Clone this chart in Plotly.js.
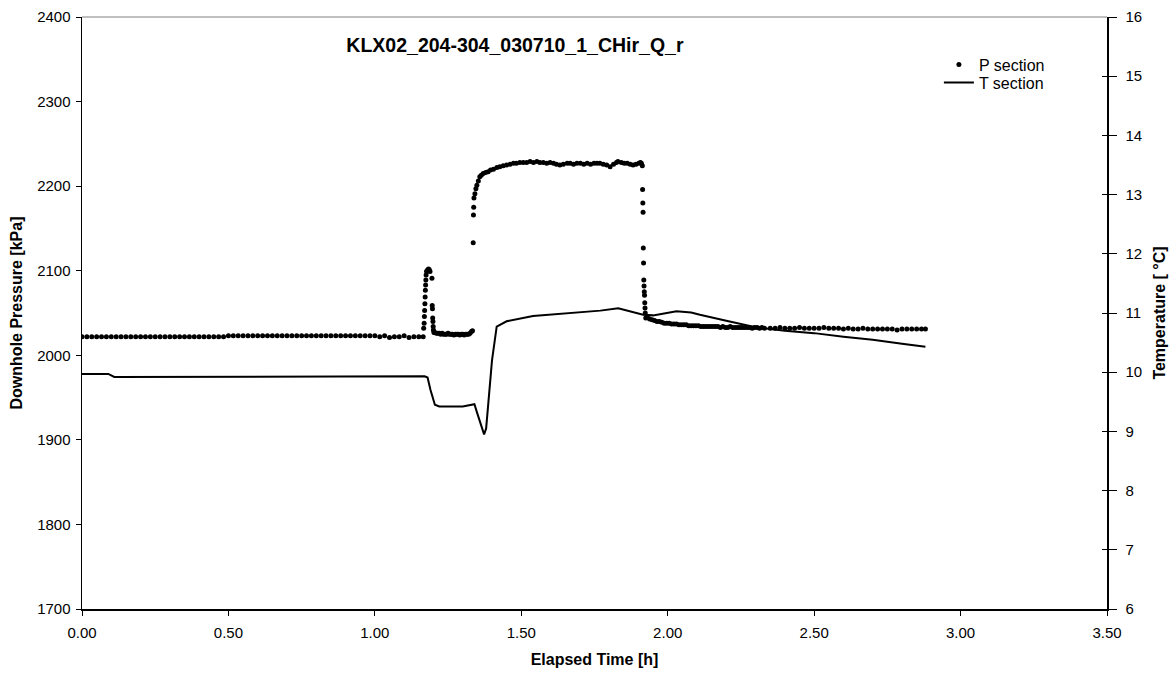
<!DOCTYPE html>
<html>
<head>
<meta charset="utf-8">
<script src="https://cdn.plot.ly/plotly-3.0.1.min.js"></script>
<style>html,body{margin:0;padding:0;background:#fff;}#chart{width:1173px;height:675px;}</style>
</head>
<body>
<div id="chart"></div>
<script>
// ---------- DATA ----------
var chartTitle = "KLX02_204-304_030710_1_CHir_Q_r";
var pName = "P section";
var tName = "T section";
var xTickLabels = ["0.00","0.50","1.00","1.50","2.00","2.50","3.00","3.50"];

// Pressure samples: elapsed time in minutes, pressure in kPa
var pBaseMin = [0,1,2,3,4,5,6,7,8,9,10,11,12,13,14,15,16,17,18,19,20,21,22,23,24,25,26,27,28,29,
  30,31,32,33,34,35,36,37,38,39,40,41,42,43,44,45,46,47,48,49,50,51,52,53,54,55,56,57,58,59,
  60,61,62,63,64,65,66,67,68,69];
var pBaseKPa = [2022,2022,2022,2022,2022,2022,2022,2022,2022,2022,2022,2022,2022,2022,2022,2022,2022,2022,2022,2022,2022,2022,2022,2022,2022,2022,2022,2022,2022,2022,
  2023,2023,2023,2023,2023,2023,2023,2023,2023,2023,2023,2023,2023,2023,2023,2023,2023,2023,2023,2023,2023,2023,2023,2023,2023,2023,2023,2023,2023,2023,
  2023,2022,2023,2021,2022,2022,2023,2021,2022,2022];

var pSpikeMin = [69.9,70.0,70.1,70.15,70.2,70.25,70.3,70.35,70.4,70.45,70.5,70.6,70.7,70.85,71.0,71.15,71.3,
  71.7,71.75,71.8,71.85,71.9,71.95,72.0,72.1];
var pSpikeKPa = [2022,2032,2038,2046,2053,2061,2069,2077,2083,2089,2095,2099,2100,2101,2102,2101,2099,
  2091,2059,2055,2044,2040,2034,2030,2027];

var pLowMin = [72.3,72.6,72.9,73.2,73.5,73.8,74.1,74.4,74.7,75.0,75.3,75.6,75.9,76.2,76.5,76.8,77.1,77.4,77.7,78.0,78.3,78.6,78.9,79.2,79.5,79.8,80.0];
var pLowKPa = [2027,2026,2026,2026,2025,2026,2025,2025,2025,2026,2025,2025,2025,2024,2025,2025,2025,2024,2025,2025,2024,2025,2025,2025,2026,2028,2029];

var pHighMin = [80.15,80.2,80.25,80.3,80.5,80.7,80.9,81.2,81.5,81.8,82.2,82.7,83.2,83.7,84.3,85.0,85.6,86.3,87.0,87.7,
  88.4,89.0,89.7,90.4,91.1,91.8,92.5,93.2,93.8,94.5,95.2,95.9,96.6,97.2,97.9,98.6,99.4,100.0,100.7,101.4,
  102.1,102.8,103.5,104.2,104.9,105.5,106.1,106.8,107.5,108.2,108.9,109.5,109.8,110.5,111.1,111.7,112.3,112.9,113.5,114.1,114.4,114.6];
var pHighKPa = [2133,2166,2175,2186,2191,2197,2201,2206,2211,2213,2215,2216,2217,2219,2220,2222,2223,2224,2225,2226,
  2227,2227,2228,2228,2228,2229,2228,2229,2228,2228,2227,2228,2227,2226,2225,2226,2227,2227,2226,2227,
  2227,2226,2227,2226,2227,2227,2227,2226,2225,2223,2226,2228,2229,2228,2227,2227,2226,2225,2226,2227,2228,2227];

var pDropMin = [114.8,114.85,114.9,114.95,115.0,115.05,115.1,115.15,115.2,115.25,115.3,115.35,115.4,115.5];
var pDropKPa = [2224,2196,2180,2169,2127,2109,2089,2082,2075,2071,2062,2056,2050,2044];

var pTailMin = [115.8,116.3,116.8,117.3,117.8,118.3,118.8,119.3,119.8,120.3,120.8,121.3,121.8,122.3,122.8,123.3,123.8,124.3,124.8,125.3,
  125.8,126.3,126.8,127.3,127.8,128.3,128.8,129.3,129.8,130.3,130.8,131.3,131.8,132.3,132.8,133.3,133.8,134.3,134.8,135.3,
  135.8,136.3,136.8,137.3,137.8,138.3,138.8,139.3,139.8,
  141,142,143,144,145,146,147,148,149,150,151,152,153,154,155,156,157,158,159,160,161,162,163,164,165,166,167,168,169,170,171,172,172.8];
var pTailKPa = [2046,2043,2042,2041,2040,2040,2039,2038,2038,2038,2037,2037,2037,2036,2036,2036,2036,2035,2035,2035,
  2035,2035,2034,2034,2034,2034,2034,2034,2034,2034,2033,2034,2033,2033,2034,2033,2033,2033,2033,2033,
  2033,2033,2033,2032,2033,2033,2032,2033,2032,
  2032,2032,2033,2032,2032,2032,2033,2032,2032,2032,2032,2033,2032,2032,2032,2031,2032,2031,2031,2032,2031,2031,2031,2031,2031,2031,2030,2031,2031,2031,2031,2031,2031];

// Temperature: elapsed time in hours, temperature in deg C
var tTimeH = [0.00,0.09,0.11,0.67,0.69,1.17,1.18,1.19,1.205,1.22,1.30,1.34,1.35,1.373,1.38,1.40,1.416,1.45,1.54,1.655,
  1.77,1.831,1.916,1.95,2.00,2.03,2.08,2.11,2.2,2.3,2.4,2.5,2.6,2.7,2.8,2.88];
var tDegC = [9.97,9.97,9.92,9.92,9.93,9.93,9.91,9.70,9.45,9.42,9.42,9.46,9.30,8.95,9.05,10.20,10.77,10.86,10.95,10.99,
  11.04,11.08,10.97,10.96,11.01,11.03,11.01,10.97,10.87,10.76,10.70,10.66,10.60,10.55,10.48,10.43];

// ---------- BUILD ----------
var pMin = [].concat(pBaseMin, pSpikeMin, pLowMin, pHighMin, pDropMin, pTailMin);
var pKPa = [].concat(pBaseKPa, pSpikeKPa, pLowKPa, pHighKPa, pDropKPa, pTailKPa);
var pHours = pMin.map(function(m){ return m / 60; });

var FONT = "Liberation Sans, Arial, sans-serif";

var traces = [
  {
    x: pHours, y: pKPa, name: pName, type: "scatter", mode: "markers",
    marker: {color: "#000", size: 5, symbol: "circle"},
    xaxis: "x", yaxis: "y", legend: "legend"
  },
  {
    x: tTimeH, y: tDegC, name: tName, type: "scatter", mode: "lines",
    line: {color: "#000", width: 2},
    xaxis: "x", yaxis: "y2", legend: "legend2"
  },
  {
    x: [], y: [], type: "scatter", mode: "markers", showlegend: false, hoverinfo: "skip",
    xaxis: "x", yaxis: "y3"
  }
];

var legendBase = {
  xanchor: "left", yanchor: "top",
  bgcolor: "rgba(0,0,0,0)", borderwidth: 0,
  font: {family: FONT, size: 16, color: "#000"},
  tracegroupgap: 0
};

var layout = {
  width: 1173, height: 675,
  margin: {l: 82, r: 66, t: 17, b: 66, pad: 0},
  paper_bgcolor: "#fff", plot_bgcolor: "#fff",
  font: {family: FONT, size: 15, color: "#000"},
  showlegend: true,
  title: {
    text: "<b>" + chartTitle + "</b>",
    font: {family: FONT, size: 19.5, color: "#000"},
    xref: "paper", x: 0.4224, xanchor: "center",
    yref: "container", y: 0.933, yanchor: "middle"
  },
  xaxis: {
    range: [0, 3.5], tickvals: [0,0.5,1,1.5,2,2.5,3,3.5], ticktext: xTickLabels,
    ticks: "outside", ticklen: 5, tickwidth: 1, tickcolor: "#000", ticklabelstandoff: 4,
    showline: true, linecolor: "#000", linewidth: 1.5,
    showgrid: false, zeroline: false,
    tickfont: {family: FONT, size: 15},
    title: {text: "<b>Elapsed Time [h]</b>", font: {family: FONT, size: 16}, standoff: 14}
  },
  yaxis: {
    range: [1700, 2400], dtick: 100,
    ticks: "outside", ticklen: 5, tickwidth: 1, tickcolor: "#000", ticklabelstandoff: 2,
    showline: true, linecolor: "#000", linewidth: 1.5,
    showgrid: false, zeroline: false,
    tickfont: {family: FONT, size: 15},
    title: {text: "<b>Downhole Pressure [kPa]</b>", font: {family: FONT, size: 16}, standoff: 10}
  },
  yaxis2: {
    range: [6, 16], dtick: 1, overlaying: "y", side: "right", anchor: "x",
    ticks: "outside", ticklen: 8, tickwidth: 1, tickcolor: "#000", ticklabelstandoff: 6,
    showline: true, linecolor: "#000", linewidth: 1.5,
    showgrid: false, zeroline: false,
    tickfont: {family: FONT, size: 15},
    title: {text: "<b>Temperature [ °C]</b>", font: {family: FONT, size: 16}, standoff: 12}
  },
  yaxis3: {
    range: [6, 16], dtick: 1, overlaying: "y", side: "right", anchor: "x",
    ticks: "inside", ticklen: 5, tickwidth: 1, tickcolor: "#000",
    showticklabels: false, showline: false, showgrid: false, zeroline: false
  },
  legend: Object.assign({}, legendBase, {x: 0.836, y: 0.9485}),
  legend2: Object.assign({}, legendBase, {x: 0.836, y: 0.918}),
  shapes: [
    {type: "line", xref: "paper", yref: "paper", x0: 0, x1: 1, y0: 1, y1: 1,
     line: {color: "#808080", width: 1}}
  ]
};

Plotly.newPlot("chart", traces, layout, {displayModeBar: false, staticPlot: true});
</script>
</body>
</html>
